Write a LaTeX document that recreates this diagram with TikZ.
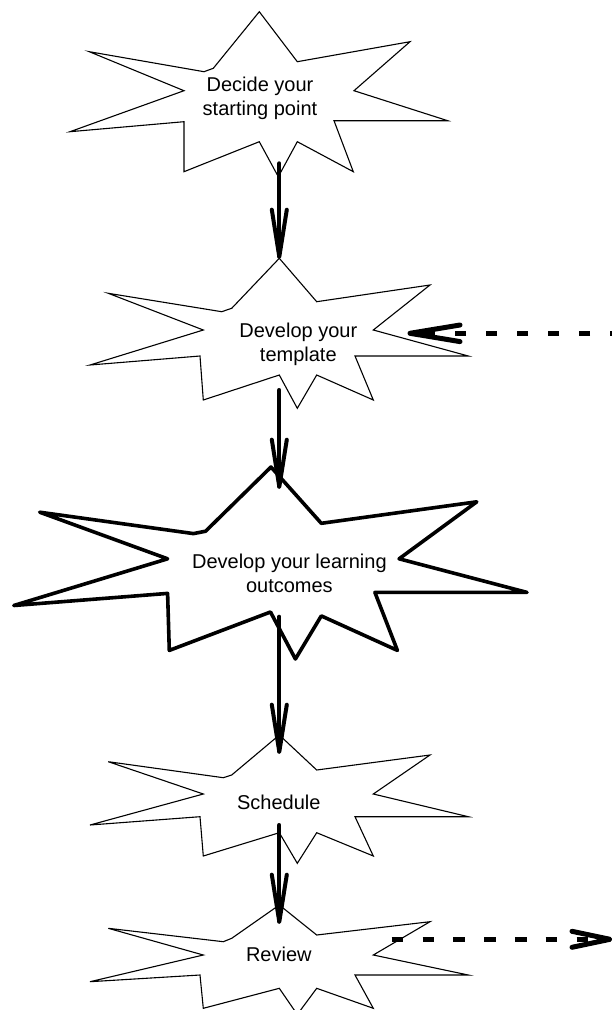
\documentclass[tikz,border=0pt]{standalone}
\usepackage{fontspec}
\setmainfont{Liberation Sans}
\usetikzlibrary{calc}
\begin{document}
\begin{tikzpicture}[x=1pt,y=-1pt,
  star/.style={draw=black, fill=white, line width=1.1pt, line join=miter},
  bigstar/.style={star, line width=3.6pt, line join=round},
  lbl/.style={anchor=base, align=center, inner sep=0pt, font=\fontsize{20}{23.5}\selectfont},
  shaft/.style={line width=4pt, line cap=round},
  barb/.style={line width=4pt, line cap=round, line join=round},
  dshaftA/.style={line width=5.5pt, dash pattern=on 11pt off 20pt},
  dshaftB/.style={line width=5.5pt, dash pattern=on 11.6pt off 19.2pt},
  dbarb/.style={line width=5pt, line cap=round, line join=round}]
\useasboundingbox (0,0) rectangle (611,1010);
% stars
\draw[star] (259.3,11.7) -- (297.3,61.7) -- (410,41.7) -- (354,90.7) -- (447.7,120.7) -- (334,120.7) -- (353.3,171.7) -- (297.3,141.7) -- (278.3,176.7) -- (259.3,141.7) -- (184,171.7) -- (184,121.7) -- (70,131.7) -- (184,90.7) -- (89.3,51.7) -- (204,71.7) -- (213.3,68.3) -- cycle;
\draw[star] (279.3,258.3) -- (316.7,301.7) -- (430,285) -- (373.3,330) -- (468.3,356) -- (355,356) -- (373.3,400) -- (316.7,375) -- (297.3,408.3) -- (279.3,375) -- (203.3,400) -- (200,356) -- (90,365) -- (203.3,330) -- (108.3,293.3) -- (221.7,311.7) -- (231.7,308.3) -- cycle;
\draw[bigstar] (271,467) -- (321.3,523.3) -- (476.8,501.8) -- (399.1,558.8) -- (527,592.4) -- (374.9,592.4) -- (397.4,650.4) -- (321.3,615.9) -- (295.4,659) -- (270.5,612) -- (169.3,650.4) -- (167.6,593.4) -- (13.8,605.5) -- (167.6,558.8) -- (39.7,512.2) -- (193.5,533.6) -- (205.6,531.2) -- cycle;
\draw[star] (279.3,735) -- (316.7,770) -- (430,755) -- (373.3,794) -- (468.3,816.7) -- (355,816.7) -- (373.3,856) -- (316.7,832.7) -- (297.3,863.3) -- (279.3,832.7) -- (203.3,856) -- (200,816.7) -- (90,825) -- (203.3,794) -- (108.3,761.7) -- (223.3,777.7) -- (231.7,775) -- cycle;
\draw[star] (279.3,905) -- (316.7,935) -- (430,921.7) -- (373.3,955) -- (468.3,975) -- (355,975) -- (373.3,1008.3) -- (316.7,988.3) -- (297.3,1014.5) -- (279.3,988.3) -- (203.3,1008.3) -- (200,975) -- (90,981.7) -- (203.3,955) -- (108.3,928.3) -- (223.3,941.7) -- (231.7,938.3) -- cycle;
% labels (base anchor = baseline of the last line)
\node[lbl] (s1) at (260,115) {Decide your\\starting point};
\node[lbl] (s2) at (298.3,361) {Develop your\\template};
\node[lbl] (s3) at (289.4,592.4) {Develop your learning\\outcomes};
\node[lbl] (s4) at (278.8,809.3) {Schedule};
\node[lbl] (s5) at (278.8,961) {Review};
% connector end points
\coordinate (a1s) at (279.3,163.3); \coordinate (a1t) at (279.3,256.7);
\coordinate (a2s) at (279.3,390);   \coordinate (a2t) at (279.3,486.7);
\coordinate (a3s) at (279.3,616.7); \coordinate (a3t) at (279.3,751.7);
\coordinate (a4s) at (279.3,825);   \coordinate (a4t) at (279.3,921.7);
\coordinate (d1s) at (621,333.3);   \coordinate (d1t) at (410,333.3);
\coordinate (d2s) at (391.7,939.3); \coordinate (d2t) at (610,939.3);
% solid arrows
\foreach \n in {1,2,3,4}{
  \draw[shaft] (a\n s) -- (a\n t);
  \draw[barb] ($(a\n t)+(-7.5,-47)$) -- (a\n t) -- ($(a\n t)+(7.5,-47)$);
}
% dashed arrows
\draw[dshaftA] (d1s) -- (d1t);
\draw[dbarb] ($(d1t)+(50,-8.3)$) -- (d1t) -- ($(d1t)+(50,8.3)$);
\draw[dshaftB, shorten >=20pt] (d2s) -- (d2t);
\draw[dbarb] ($(d2t)+(-38,-8)$) -- (d2t) -- ($(d2t)+(-38,8)$);
\end{tikzpicture}
\end{document}
